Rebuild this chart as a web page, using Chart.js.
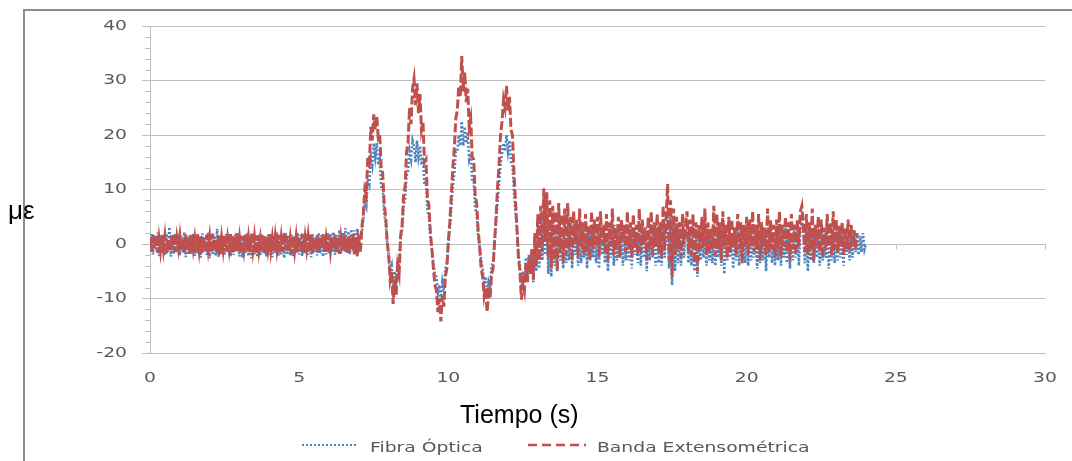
<!DOCTYPE html>
<html lang="es">
<head>
<meta charset="utf-8">
<title>Deformación: fibra óptica y banda extensométrica</title>
<script src="https://cdn.jsdelivr.net/npm/chart.js@4/dist/chart.umd.min.js"></script>
<style>
  html, body { margin: 0; padding: 0; background: #fff; }
  #wrap { position: relative; width: 1072px; height: 461px; overflow: hidden; }
  #frame { position: absolute; left: 23px; top: 9px; width: 1100px; height: 500px;
           border-left: 2px solid #8c8c8c; border-top: 2px solid #8c8c8c; }
  #chart { position: absolute; left: 0; top: 0; }
  .ytitle { position: absolute; left: 8px; top: 197px; font: 26px/26px "Liberation Sans", Arial, sans-serif; color: #000; }
  .xtitle { position: absolute; left: 460px; top: 402px; font: 25px/25px "Liberation Sans", Arial, sans-serif; color: #000; }
  .legend-text { position: absolute; top: 440px; font: 14px/14px "DejaVu Sans", Verdana, sans-serif;
                 color: #595959; white-space: nowrap; transform: scaleX(1.34); transform-origin: 0 0; }
  .legend-line { position: absolute; top: 439px; }
</style>
</head>
<body>
<div id="wrap">
  <div id="frame"></div>
  <canvas id="chart" width="1072" height="461"></canvas>
  <div class="ytitle">με</div>
  <div class="xtitle">Tiempo (s)</div>
  <svg class="legend-line" style="left:300px" width="60" height="12">
    <line x1="2" y1="6" x2="58" y2="6" stroke="#4f81bd" stroke-width="2" stroke-dasharray="2 2"/>
  </svg>
  <div class="legend-text" style="left:370px">Fibra Óptica</div>
  <svg class="legend-line" style="left:526px" width="62" height="12">
    <line x1="2" y1="6" x2="60" y2="6" stroke="#c0504d" stroke-width="2.5" stroke-dasharray="9 5"/>
  </svg>
  <div class="legend-text" style="left:597px">Banda Extensométrica</div>
</div>
<script>
// Sampling interval of both records (s)
const sampleStep = 0.05;

// Axis ticks
const xTicks = [0, 5, 10, 15, 20, 25, 30];
const yTicks = [-20, -10, 0, 10, 20, 30, 40];

// Fibra Óptica, microstrain, 20 samples per second from 0 to 24 s (one line per second)
const fibraOptica = [
  -1.4, 1.8, -1.9, 1.5, -1.2, 2.1, -2.2, 1.6, -1.7, 1.3, -2.0, 1.9, -1.5, 3.1, -2.3, 1.4, -1.8, 2.0, -1.3, 1.7,
  -2.1, 1.5, -1.6, 2.2, -2.4, 1.3, -1.9, 1.8, -1.4, 2.0, -2.2, 1.6, -1.7, 1.2, -2.5, 1.9, -1.5, 1.4, -2.0, 2.1,
  -2.6, 1.7, -1.8, 1.5, -2.2, 2.8, -2.4, 1.6, -1.9, 1.3, -2.1, 1.8, -1.6, 2.0, -2.3, 1.4, -2.0, 1.7, -1.5, 1.9,
  -2.3, 1.6, -2.5, 1.4, -1.8, 2.0, -2.2, 1.5, -2.6, 1.8, -1.9, 1.3, -2.4, 1.7, -2.0, 1.9, -1.6, 1.5, -2.3, 1.6,
  -2.0, 1.8, -2.4, 1.5, -1.7, 2.1, -2.2, 1.4, -1.9, 1.6, -2.6, 1.9, -1.8, 1.3, -2.1, 1.7, -2.3, 1.5, -1.6, 2.0,
  -1.9, 1.7, -2.2, 1.4, -1.8, 1.9, -2.0, 1.5, -2.4, 1.8, -1.6, 1.3, -2.1, 2.0, -1.7, 1.6, -2.3, 1.4, -1.9, 2.1,
  -1.7, 1.9, -1.5, 2.2, -2.0, 1.6, -1.4, 2.6, -1.8, 2.0, -1.3, 2.9, -1.6, 2.3, -1.9, 2.7, -1.2, 2.5, -1.5, 2.8,
  0.3, 1.0, 2.0, 4.5, 8.0, 7.0, 12.0, 11.0, 16.0, 14.5, 18.5, 16.0, 18.5, 14.5, 15.5, 10.5, 10.5, 5.5, 4.0, 0.0,
  -2.0, -5.0, -4.0, -8.0, -5.0, -7.0, -3.0, -4.0, 1.0, 2.5, 7.0, 8.0, 12.5, 13.5, 17.0, 15.5, 19.0, 18.0, 15.0, 19.0,
  16.0, 18.0, 14.5, 16.0, 11.0, 11.5, 6.0, 5.0, 1.0, -1.0, -3.5, -5.5, -6.0, -9.0, -7.5, -10.5, -7.0, -8.5, -4.5, -3.5,
  0.0, 3.0, 6.5, 10.5, 13.0, 17.0, 17.0, 20.0, 18.0, 22.5, 18.0, 21.5, 18.5, 20.5, 15.5, 16.5, 11.5, 11.5, 6.5, 5.5,
  1.5, -0.5, -3.0, -4.5, -7.0, -6.0, -9.5, -7.0, -8.0, -4.0, -3.5, 0.5, 4.0, 8.0, 11.0, 14.5, 16.5, 18.5, 17.0, 20.0,
  17.0, 19.0, 15.0, 14.5, 9.5, 6.0, 2.5, -2.0, -4.0, -8.0, -5.0, -7.0, -2.5, -6.0, -2.0, -4.5, -1.0, -7.0, 1.5, -5.0,
  4.0, -4.5, 5.0, -3.0, 6.0, -2.0, 5.5, -5.5, 4.5, -6.0, 5.0, -4.0, 3.5, -5.0, 4.5, -3.0, 3.0, -4.5, 4.0, -3.5,
  4.5, -3.0, 3.0, -4.5, 3.5, -2.0, 2.5, -4.0, 4.0, -3.5, 2.5, -2.5, 3.5, -4.5, 2.0, -3.0, 3.0, -2.5, 4.0, -3.5,
  2.5, -4.5, 3.0, -2.0, 3.5, -3.5, 2.0, -5.0, 3.0, -2.5, 2.5, -4.0, 3.5, -3.0, 2.0, -2.5, 3.0, -4.0, 2.5, -3.0,
  3.5, -3.0, 2.5, -4.5, 3.0, -2.0, 2.0, -3.5, 3.5, -4.0, 2.5, -2.5, 3.0, -5.0, 2.0, -3.0, 3.5, -2.5, 2.5, -4.0,
  3.0, -3.5, 2.0, -4.0, 4.0, -2.5, 3.0, 6.0, -4.5, 5.0, -7.5, 3.5, -5.0, 3.0, -3.5, 2.5, -4.0, 3.0, -2.5, 2.0,
  3.0, -3.5, 2.5, -4.0, 3.5, -5.0, 2.0, -6.0, 3.0, -3.0, 2.5, -2.5, 3.5, -4.0, 2.0, -3.0, 2.5, -3.5, 3.5, -4.0,
  3.0, -2.5, 2.0, -4.0, 3.5, -5.5, 2.5, -3.0, 3.0, -2.5, 2.0, -4.5, 3.0, -3.0, 2.5, -4.0, 1.5, -2.5, 2.5, -3.5,
  3.0, -4.0, 2.5, -3.0, 2.0, -2.5, 3.5, -4.5, 2.5, -3.5, 2.0, -3.0, 3.0, -5.0, 2.5, -2.5, 3.0, -3.5, 2.0, -4.0,
  2.5, -3.0, 3.5, -4.0, 2.0, -2.5, 3.0, -3.5, 2.5, -4.5, 2.0, -3.0, 3.5, -2.5, 2.5, -4.0, 3.0, 4.0, 2.0, -3.5,
  3.0, -5.0, 2.5, -3.0, 2.0, -3.5, 3.5, -2.5, 2.5, -4.0, 3.0, -3.0, 2.0, -2.5, 3.5, -4.5, 2.5, -3.0, 2.0, -3.5,
  2.5, -3.0, 2.0, -2.5, 3.0, -4.0, 2.5, -2.0, 1.5, -3.0, 2.0, -2.5, 2.5, -1.5, 2.0, -2.0, 1.5, -1.5, 2.0, -1.0,
  0.0
];

// Banda Extensométrica, microstrain, 20 samples per second from 0 to 23.7 s (one line per second)
const bandaExtensometrica = [
  1.2, -1.4, 1.7, -0.9, 1.5, -1.6, 1.1, -1.2, 1.8, -1.0, 1.4, -1.7, 0.9, -1.3, 1.6, -1.1, 1.9, -1.5, 1.2, -0.8,
  1.5, -1.3, 1.0, -1.6, 1.7, -1.2, 1.3, -1.8, 1.6, -0.9, 1.1, -1.4, 1.8, -1.1, 1.4, -1.6, 1.2, -1.3, 1.7, -1.0,
  1.3, -1.5, 1.9, -1.2, 1.0, -1.7, 1.5, -1.9, 1.2, -1.1, 1.6, -1.4, 1.1, -1.0, 1.8, -1.6, 1.4, -1.2, 2.0, -1.3,
  1.1, -1.6, 1.5, -1.0, 1.7, -1.3, 1.2, -1.5, 1.9, -1.1, 1.3, -1.8, 1.6, -1.2, 1.0, -1.4, 1.5, -1.7, 1.3, -0.9,
  1.8, -1.2, 1.1, -1.5, 1.4, -1.0, 1.7, -1.6, 1.2, -1.3, 2.1, -1.1, 1.5, -1.4, 1.0, -1.8, 1.6, -1.2, 1.3, -1.5,
  1.4, -1.1, 1.9, -1.6, 1.2, -1.0, 1.5, -1.3, 1.7, -1.7, 1.1, -1.2, 1.6, -1.5, 1.3, -0.9, 1.8, -1.4, 1.0, -1.6,
  1.6, -1.3, 1.2, -1.1, 1.7, -1.5, 1.4, -1.8, 1.1, -1.2, 1.9, -1.4, 1.3, -1.6, 1.5, -1.0, 1.8, -1.9, 1.2, -2.3,
  0.5, -1.5, 3.0, 5.5, 10.0, 9.0, 16.0, 14.0, 21.5, 19.0, 23.8, 21.0, 23.5, 19.5, 20.0, 14.0, 13.0, 7.5, 5.0, 0.5,
  -2.0, -6.5, -5.0, -11.0, -6.5, -9.5, -4.0, -5.5, 1.5, 3.5, 9.0, 10.5, 17.0, 18.5, 25.0, 22.0, 28.5, 30.3, 25.5, 29.5,
  24.0, 27.5, 21.0, 22.5, 15.0, 15.5, 8.5, 7.0, 2.0, -1.0, -4.5, -7.5, -8.5, -12.5, -10.0, -14.2, -9.5, -11.5, -6.0, -4.5,
  0.5, 4.0, 9.0, 14.0, 17.5, 23.0, 24.5, 29.0, 27.0, 34.5, 28.0, 31.5, 26.0, 28.5, 21.5, 23.0, 16.0, 15.5, 9.0, 7.5,
  2.5, -0.5, -4.5, -6.0, -9.5, -8.0, -12.5, -9.0, -10.0, -5.5, -4.5, 0.5, 5.0, 10.5, 14.5, 20.0, 22.5, 26.5, 25.0, 29.0,
  24.5, 27.0, 21.0, 20.0, 13.0, 8.0, 3.0, -2.5, -5.0, -10.2, -7.0, -8.5, -3.5, -7.0, -2.5, -5.5, -1.0, -6.5, 2.0, -4.0,
  5.5, -3.0, 7.0, -1.5, 10.2, 0.5, 9.5, -2.5, 8.0, -4.5, 7.0, -3.0, 6.0, -5.0, 7.5, -1.5, 5.5, -3.5, 6.5, -2.0,
  7.5, -1.0, 5.0, -3.0, 6.0, 0.0, 4.5, -2.5, 6.5, -0.5, 4.0, -2.0, 5.5, -1.5, 3.5, -3.0, 6.0, -1.0, 4.5, -0.5,
  5.0, -2.5, 6.0, 0.0, 3.5, -1.5, 5.5, -3.0, 4.0, -0.5, 6.5, -2.0, 3.0, -1.0, 5.0, -2.5, 4.5, 0.5, 3.5, -1.5,
  6.0, -1.0, 4.0, -2.5, 5.5, -0.5, 3.5, -2.0, 6.5, -1.5, 4.5, 0.0, 3.0, -3.0, 5.0, -1.0, 6.0, -2.0, 4.0, -0.5,
  5.5, -1.5, 4.0, -2.5, 7.0, -1.0, 5.0, 11.0, -3.0, 8.0, -6.0, 6.5, -2.0, 5.0, -1.0, 4.0, -2.5, 5.5, 0.0, 3.5,
  6.0, -1.5, 4.5, -2.0, 5.5, -3.5, 4.0, -5.0, 3.5, -1.0, 5.0, -0.5, 6.5, -2.0, 4.0, -1.5, 3.0, -1.0, 7.0, -2.0,
  5.5, -1.0, 4.0, -3.0, 6.0, -0.5, 3.5, -2.5, 5.0, -1.5, 4.5, -0.5, 3.0, -2.0, 5.5, -1.0, 4.0, -3.5, 3.5, -0.5,
  5.0, -2.0, 4.5, -0.5, 6.0, -1.5, 3.5, -1.0, 5.5, -3.0, 4.0, -0.5, 3.0, -2.0, 6.5, -1.5, 4.5, -1.0, 3.5, -2.5,
  4.5, -1.0, 6.0, -2.5, 3.5, -0.5, 5.0, -1.5, 4.0, -3.0, 5.5, -1.0, 3.5, -2.0, 4.5, -0.5, 6.0, 7.0, 3.0, -1.5,
  5.5, -2.0, 4.0, -1.0, 6.5, -3.0, 3.5, -0.5, 5.0, -1.5, 4.5, -2.5, 3.0, -1.0, 5.5, -0.5, 4.0, -2.0, 6.0, -1.0,
  4.5, -1.5, 3.5, -0.5, 4.0, -2.0, 3.0, -1.0, 4.5, -1.5, 3.5, -0.5, 2.5, -1.0, 2.0
];

const toPoints = values => values.map((v, i) => ({ x: +(i * sampleStep).toFixed(2), y: v }));

const axisColor = '#bfbfbf';
const labelColor = '#595959';
const labelFont = '14px "DejaVu Sans", Verdana, sans-serif';
const labelStretch = 1.34;

// Minor ticks on the strain axis and tick marks along the zero line
const axisMarks = {
  id: 'axisMarks',
  beforeDatasetsDraw(chart) {
    const { ctx, scales: { x, y } } = chart;
    ctx.save();
    ctx.strokeStyle = axisColor;
    ctx.lineWidth = 1;
    ctx.beginPath();
    for (let v = yTicks[0]; v <= yTicks[yTicks.length - 1]; v += 2) {
      if (yTicks.includes(v)) continue;
      const py = Math.round(y.getPixelForValue(v)) + 0.5;
      ctx.moveTo(x.left - 5, py);
      ctx.lineTo(x.left, py);
    }
    const y0 = Math.round(y.getPixelForValue(0)) + 0.5;
    for (const t of xTicks) {
      const px = Math.round(x.getPixelForValue(t)) + 0.5;
      ctx.moveTo(px, y0);
      ctx.lineTo(px, y0 + 5);
    }
    ctx.stroke();
    ctx.restore();
  }
};

// Horizontally widened tick labels, placed from the scales
const wideTickLabels = {
  id: 'wideTickLabels',
  afterDraw(chart) {
    const { ctx, scales: { x, y } } = chart;
    ctx.save();
    ctx.font = labelFont;
    ctx.fillStyle = labelColor;
    ctx.textBaseline = 'middle';
    ctx.textAlign = 'right';
    for (const v of yTicks) {
      ctx.save();
      ctx.translate(y.right - 23, y.getPixelForValue(v));
      ctx.scale(labelStretch, 1);
      ctx.fillText(String(v), 0, 0);
      ctx.restore();
    }
    ctx.textAlign = 'center';
    for (const t of xTicks) {
      ctx.save();
      ctx.translate(x.getPixelForValue(t), x.top + 25);
      ctx.scale(labelStretch, 1);
      ctx.fillText(String(t), 0, 0);
      ctx.restore();
    }
    ctx.restore();
  }
};

new Chart(document.getElementById('chart'), {
  type: 'line',
  data: {
    datasets: [
      {
        label: 'Fibra Óptica',
        data: toPoints(fibraOptica),
        borderColor: '#4f81bd',
        borderWidth: 2.6,
        borderDash: [2, 2],
        pointRadius: 0,
        tension: 0,
        order: 2
      },
      {
        label: 'Banda Extensométrica',
        data: toPoints(bandaExtensometrica),
        borderColor: '#c0504d',
        borderWidth: 3,
        borderDash: [9, 3],
        pointRadius: 0,
        tension: 0,
        order: 1
      }
    ]
  },
  options: {
    responsive: false,
    animation: false,
    layout: { padding: { left: 0, right: 27, top: 26, bottom: 68 } },
    plugins: { legend: { display: false }, tooltip: { enabled: false } },
    scales: {
      x: {
        type: 'linear',
        min: xTicks[0],
        max: xTicks[xTicks.length - 1],
        afterFit(scale) { scale.height = 40; },
        afterBuildTicks(scale) { scale.ticks = xTicks.map(v => ({ value: v })); },
        grid: { display: false, drawTicks: false },
        border: { display: true, color: axisColor, width: 1 },
        ticks: { display: false }
      },
      y: {
        min: yTicks[0],
        max: yTicks[yTicks.length - 1],
        afterFit(scale) { scale.width = 150; },
        afterBuildTicks(scale) { scale.ticks = yTicks.map(v => ({ value: v })); },
        grid: { color: axisColor, lineWidth: 1, drawTicks: true, tickLength: 8, tickColor: axisColor },
        border: { display: true, color: axisColor, width: 1 },
        ticks: { display: false }
      }
    }
  },
  plugins: [axisMarks, wideTickLabels]
});
</script>
</body>
</html>
